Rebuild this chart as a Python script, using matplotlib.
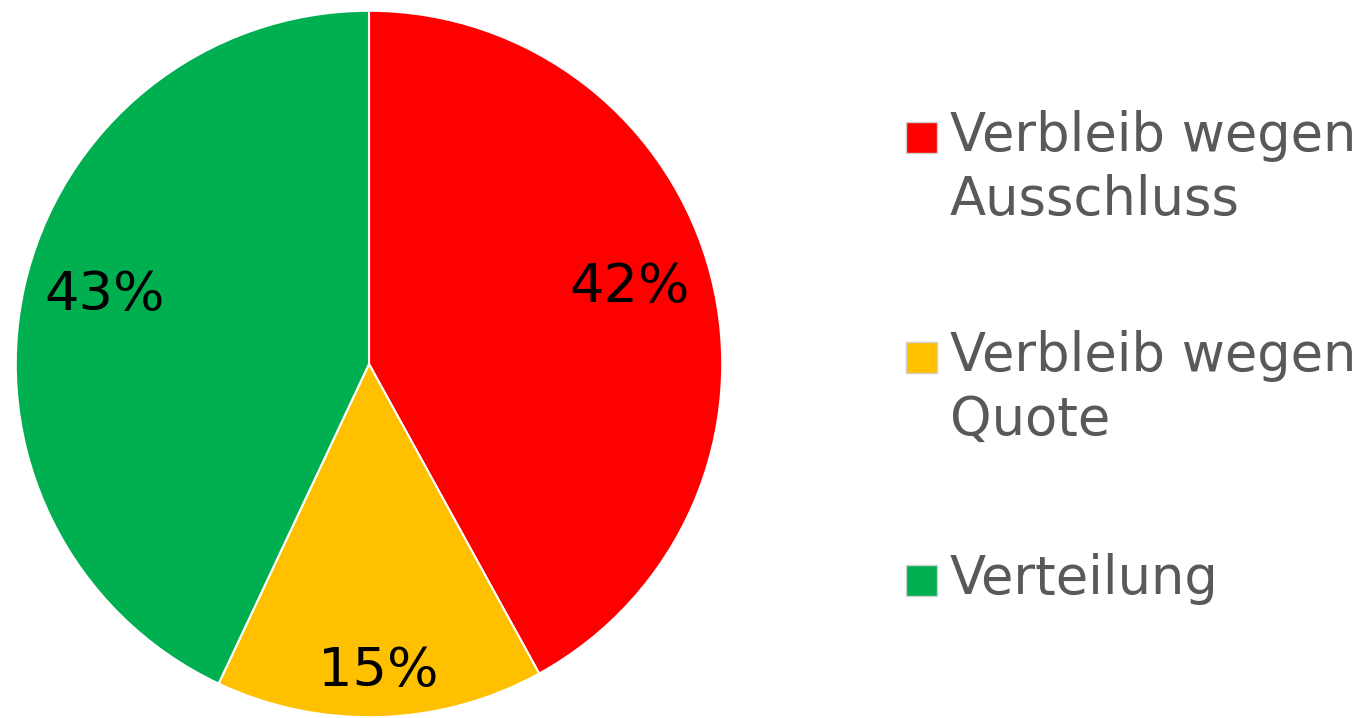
import numpy as np
import matplotlib.pyplot as plt
from matplotlib.patches import Rectangle

# Daten
labels = ['Verbleib wegen\nAusschluss', 'Verbleib wegen\nQuote', 'Verteilung']
values = [42, 15, 43]
colors = ['#ff0000', '#ffc000', '#00b050']

# Lage der Prozentbeschriftungen (Radius, Winkelversatz in Grad)
label_radius = [0.77, 0.87, 0.775]
label_shift = [2.0, 0.0, -2.0]

W, H = 1368, 718
fig = plt.figure(figsize=(W / 100, H / 100), dpi=100)

# Kreis: Mittelpunkt (369, 364) px, Radius 355 px
cx, cy, r = 369, 364, 355
ax = fig.add_axes([(cx - r) / W, (H - cy - r) / H, 2 * r / W, 2 * r / H])
wedges, texts, autotexts = ax.pie(
    values, colors=colors, startangle=90, counterclock=False, radius=1,
    autopct='%1.0f%%', pctdistance=0.8,
    wedgeprops=dict(edgecolor='white', linewidth=1.5),
    textprops=dict(fontsize=39, color='black'))
ax.set_xlim(-1.005, 1.005)
ax.set_ylim(-1.005, 1.005)
ax.set_aspect('equal')
ax.axis('off')

for w, t, rad, shift in zip(wedges, autotexts, label_radius, label_shift):
    ang = np.deg2rad((w.theta1 + w.theta2) / 2 + shift)
    t.set_position((rad * np.cos(ang), rad * np.sin(ang)))
    t.set_ha('center')
    t.set_va('center')

# Legende
entry_top = [137, 357, 580]
for lab, col, yc in zip(labels, colors, entry_top):
    fig.patches.append(Rectangle((906 / W, (H - yc - 16) / H), 31 / W, 31 / H,
                                 transform=fig.transFigure, facecolor=col,
                                 edgecolor='#d0d0d0', linewidth=1))
    fig.text(950 / W, (H - yc + 27) / H, lab, fontsize=38, color='#595959',
             ha='left', va='top', linespacing=1.3)

plt.savefig('out.png', dpi=100)
